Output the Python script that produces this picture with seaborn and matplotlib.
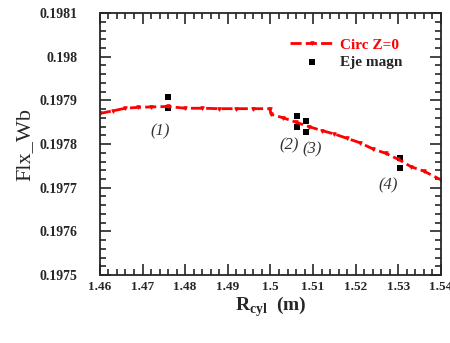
import numpy as np
import pandas as pd
import seaborn as sns
import matplotlib.pyplot as plt
from matplotlib.ticker import MultipleLocator, FuncFormatter

# Circ Z=0 curve (R_cyl in m, flux in Wb)
r_circ = [1.460, 1.463, 1.466, 1.469, 1.472, 1.476, 1.480, 1.484, 1.488, 1.492,
          1.496, 1.4998, 1.5002, 1.503, 1.506, 1.509, 1.512, 1.515, 1.518, 1.521,
          1.524, 1.527, 1.530, 1.533, 1.536, 1.540]
flx_circ = [0.197870, 0.197876, 0.197882, 0.197884, 0.197885, 0.197886, 0.197882,
            0.197882, 0.197881, 0.197881, 0.197881, 0.197881, 0.197868, 0.197860,
            0.197850, 0.197840, 0.197831, 0.197823, 0.197813, 0.197803, 0.197789,
            0.197779, 0.197765, 0.197748, 0.197738, 0.197718]

# Eje magn points
r_eje = [1.4759, 1.4759, 1.5062, 1.5062, 1.5083, 1.5083, 1.5304, 1.5304]
flx_eje = [0.197907, 0.197883, 0.197864, 0.197840, 0.197852, 0.197827, 0.197768, 0.197745]

labels = ["(1)", "(2)", "(3)", "(4)"]
label_x = [1.4742, 1.5044, 1.5098, 1.5276]
label_y = [0.197828, 0.197798, 0.197787, 0.197706]

sns.set_style("ticks")
plt.rcParams['font.family'] = ['Liberation Serif', 'DejaVu Serif']
plt.rcParams['mathtext.fontset'] = 'custom'
plt.rcParams['mathtext.rm'] = 'Liberation Serif'
plt.rcParams['mathtext.bf'] = 'Liberation Serif:bold'

fig, ax = plt.subplots(figsize=(4.5, 3.43), dpi=100)
fig.subplots_adjust(left=0.222, right=0.98, top=0.962, bottom=0.198)

df_c = pd.DataFrame({"r": r_circ, "flx": flx_circ})
df_e = pd.DataFrame({"r": r_eje, "flx": flx_eje})

sns.lineplot(data=df_c, x="r", y="flx", ax=ax, color="red", lw=2,
             dashes=False, linestyle=(0, (4, 1.5)), marker="v", markersize=2.5,
             markeredgecolor="red", label="Circ Z=0")
sns.scatterplot(data=df_e, x="r", y="flx", ax=ax, color="black", marker="s",
                s=20, linewidth=0, label="Eje magn")

for t, x, y in zip(labels, label_x, label_y):
    ax.text(x, y, t, fontsize=12, style="italic", color="#333333", ha="center", va="center")

ax.set_xlim(1.46, 1.54)
ax.set_ylim(0.1975, 0.1981)
ax.xaxis.set_major_locator(MultipleLocator(0.01))
ax.xaxis.set_minor_locator(MultipleLocator(0.002))
ax.yaxis.set_major_locator(MultipleLocator(0.0001))
ax.yaxis.set_minor_locator(MultipleLocator(0.00002))
fmt = FuncFormatter(lambda v, p: "%g" % round(v, 6))
ax.xaxis.set_major_formatter(fmt)
ax.yaxis.set_major_formatter(fmt)
ax.tick_params(which="both", direction="in", top=True, right=True, width=1.2)
ax.tick_params(which="major", length=8)
ax.tick_params(which="minor", length=4)
ax.tick_params(axis="x", which="major", labelsize=9.5, pad=4)
ax.tick_params(axis="y", which="major", labelsize=10, pad=16)
for lab in ax.get_xticklabels() + ax.get_yticklabels():
    lab.set_fontweight("bold")
for s in ax.spines.values():
    s.set_linewidth(1.3)
    s.set_visible(True)

ax.set_xlabel(r"R$_{\mathbf{cyl}}$  (m)", fontsize=14, fontweight="bold", labelpad=1)
ax.set_ylabel("Flx_Wb", fontsize=16, labelpad=4)

leg = ax.legend(loc="upper right", bbox_to_anchor=(0.915, 0.94), frameon=False,
                handlelength=2.9, handletextpad=0.4, borderaxespad=0.2, labelspacing=0.25,
                prop={"weight": "bold", "size": 11})
leg.get_texts()[0].set_color("red")

plt.savefig("out.png", dpi=100)
